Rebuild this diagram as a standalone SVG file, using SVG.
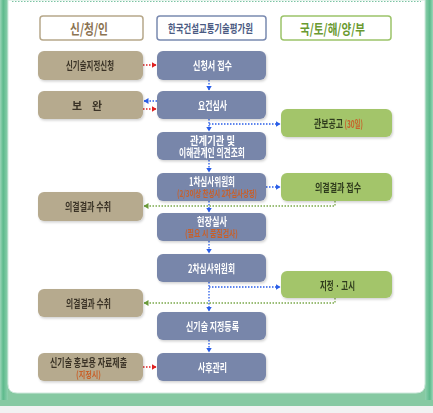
<svg xmlns="http://www.w3.org/2000/svg" width="433" height="413" viewBox="0 0 433 413">
<defs>
<style>
text{font-family:"Noto Sans CJK KR","Noto Sans",sans-serif;text-anchor:middle;dominant-baseline:central;font-weight:bold}
.hd{fill:#fff;stroke-width:1.5}
.tan{fill:#b6aa8e}
.blu{fill:#7886aa}
.grn{fill:#a3c56a}
.tt{fill:#3a3326;font-size:11px}
.wt{fill:#fff;font-size:11px}
.gt{fill:#2e3a1c;font-size:11px}
.or{fill:#c8602a;font-size:9.5px}
.red{stroke:#e02020;stroke-width:1.3;stroke-dasharray:1.5 1.5;fill:none}
.bl{stroke:#2a5ee8;stroke-width:1.3;stroke-dasharray:1.5 1.5;fill:none}
.gr{stroke:#7aa84a;stroke-width:1.3;stroke-dasharray:1.5 1.5;fill:none}
</style>
<marker id="ar" markerWidth="5" markerHeight="6" refX="4.5" refY="3" orient="auto" markerUnits="userSpaceOnUse"><path d="M0,0L5,3L0,6z" fill="#e02020"/></marker>
<marker id="ab" markerWidth="5" markerHeight="6" refX="4.5" refY="3" orient="auto" markerUnits="userSpaceOnUse"><path d="M0,0L5,3L0,6z" fill="#2a5ee8"/></marker>
<marker id="ag" markerWidth="5" markerHeight="6" refX="4.5" refY="3" orient="auto" markerUnits="userSpaceOnUse"><path d="M0,0L5,3L0,6z" fill="#6a9a3a"/></marker>
<linearGradient id="lg" x1="0" x2="1"><stop offset="0" stop-color="#9bd6b8"/><stop offset="0.4" stop-color="#5dba8c"/><stop offset="1" stop-color="#8fd0ae"/></linearGradient>
<linearGradient id="rg" x1="0" x2="1"><stop offset="0" stop-color="#8fd0ae"/><stop offset="0.6" stop-color="#5dba8c"/><stop offset="1" stop-color="#9bd6b8"/></linearGradient>
<filter id="sh" x="-10%" y="-10%" width="130%" height="140%"><feDropShadow dx="1" dy="1.5" stdDeviation="1" flood-color="#000" flood-opacity="0.18"/></filter>
</defs>
<rect width="433" height="413" fill="#ffffff"/>
<g id="frame">
<rect x="0" y="0" width="433" height="406" fill="#86c9a2"/>
<rect x="0" y="0" width="8" height="400" fill="url(#lg)"/>
<rect x="425" y="0" width="8" height="400" fill="url(#rg)"/>
<path d="M8,0H425V384Q425,393 416,393H17Q8,393 8,384Z" fill="#ffffff" stroke="#cfe9dc" stroke-width="1"/>
<line x1="12" y1="1.5" x2="421" y2="1.5" stroke="#7cc4a4" stroke-width="1.2" stroke-dasharray="1.5 1.5"/>
<rect x="0" y="406" width="433" height="7" fill="#f2f2f2"/>
</g>
<g id="hdr-applicant"><rect class="hd" x="40" y="16" width="103" height="24" rx="3" stroke="#b7a88a"/><text x="89" y="28" fill="#8b7352" style="font-size:14px" textLength="38" lengthAdjust="spacingAndGlyphs">신/청/인</text></g>
<g id="hdr-kaia"><rect class="hd" x="157" y="16" width="109" height="24" rx="3" stroke="#7a8ab0"/><text x="210.5" y="28" fill="#4a5a82" style="font-size:11.5px" textLength="85" lengthAdjust="spacingAndGlyphs">한국건설교통기술평가원</text></g>
<g id="hdr-molit"><rect class="hd" x="281" y="16" width="110" height="24" rx="3" stroke="#9cc46a"/><text x="332.5" y="28" fill="#6a9a30" style="font-size:14px" textLength="65" lengthAdjust="spacingAndGlyphs">국/토/해/양/부</text></g>

<g id="connectors">
<line class="red" x1="143" y1="65" x2="156" y2="65" marker-end="url(#ar)"/>
<line class="bl" x1="209" y1="80" x2="209" y2="90" marker-end="url(#ab)"/>
<line class="bl" x1="157" y1="101" x2="144" y2="101" marker-end="url(#ab)"/>
<line class="red" x1="143" y1="109" x2="156" y2="109" marker-end="url(#ar)"/>
<line class="bl" x1="209" y1="119" x2="209" y2="131" marker-end="url(#ab)"/>
<line class="bl" x1="209" y1="124" x2="280" y2="124" marker-end="url(#ab)"/>
<line class="bl" x1="209" y1="160" x2="209" y2="172" marker-end="url(#ab)"/>
<line class="bl" x1="266" y1="187" x2="280" y2="187" marker-end="url(#ab)"/>
<line class="bl" x1="209" y1="201" x2="209" y2="212" marker-end="url(#ab)"/>
<path class="gr" d="M335,201V206H144" marker-end="url(#ag)"/>
<line class="bl" x1="209" y1="241" x2="209" y2="253" marker-end="url(#ab)"/>
<line class="bl" x1="209" y1="282" x2="209" y2="311" marker-end="url(#ab)"/>
<line class="bl" x1="209" y1="287" x2="280" y2="287" marker-end="url(#ab)"/>
<path class="gr" d="M335,298V303H144" marker-end="url(#ag)"/>
<line class="bl" x1="209" y1="340" x2="209" y2="352" marker-end="url(#ab)"/>
<line class="red" x1="143" y1="367" x2="156" y2="367" marker-end="url(#ar)"/>
</g>

<g id="n-apply" filter="url(#sh)"><rect class="tan" x="38" y="51" width="105" height="29" rx="6"/><text class="tt" x="90" y="65" textLength="48" lengthAdjust="spacingAndGlyphs">신기술지정신청</text></g>
<g id="n-supplement" filter="url(#sh)"><rect class="tan" x="38" y="91" width="105" height="28" rx="6"/><text class="tt" x="87" y="105" textLength="30" lengthAdjust="spacingAndGlyphs" xml:space="preserve">보    완</text></g>
<g id="n-receive1" filter="url(#sh)"><rect class="tan" x="38" y="192" width="105" height="29" rx="6"/><text class="tt" x="88" y="206" textLength="46" lengthAdjust="spacingAndGlyphs">의결결과 수취</text></g>
<g id="n-receive2" filter="url(#sh)"><rect class="tan" x="38" y="289" width="105" height="28" rx="6"/><text class="tt" x="88.5" y="303" textLength="45" lengthAdjust="spacingAndGlyphs">의결결과 수취</text></g>
<g id="n-promo" filter="url(#sh)"><rect class="tan" x="38" y="353" width="105" height="28" rx="6"/><text class="tt" x="88.5" y="361.5" textLength="77" lengthAdjust="spacingAndGlyphs">신기술 홍보용 자료제출</text><text class="or" x="88.5" y="373.5" textLength="25" lengthAdjust="spacingAndGlyphs">(지정시)</text></g>

<g id="n-accept" filter="url(#sh)"><rect class="blu" x="157" y="51" width="109" height="29" rx="6"/><text class="wt" x="212.5" y="65" textLength="39" lengthAdjust="spacingAndGlyphs">신청서 접수</text></g>
<g id="n-review" filter="url(#sh)"><rect class="blu" x="157" y="91" width="109" height="28" rx="6"/><text class="wt" x="212.5" y="105" textLength="29" lengthAdjust="spacingAndGlyphs">요건심사</text></g>
<g id="n-inquiry" filter="url(#sh)"><rect class="blu" x="157" y="132" width="109" height="28" rx="6"/><text class="wt" x="212.5" y="139.5" textLength="45" lengthAdjust="spacingAndGlyphs">관계기관 및</text><text class="wt" x="212" y="152" textLength="66" lengthAdjust="spacingAndGlyphs">이해관계인 의견조회</text></g>
<g id="n-first" filter="url(#sh)"><rect class="blu" x="157" y="173" width="109" height="28" rx="6"/><text class="wt" x="212" y="181" textLength="46" lengthAdjust="spacingAndGlyphs">1차심사위원회</text><text class="or" x="217" y="193" textLength="80" lengthAdjust="spacingAndGlyphs">(2/3이상 찬성시 2차심사상정)</text></g>
<g id="n-site" filter="url(#sh)"><rect class="blu" x="157" y="213" width="109" height="28" rx="6"/><text class="wt" x="212" y="220.5" textLength="30" lengthAdjust="spacingAndGlyphs">현장실사</text><text class="or" x="211.5" y="233" textLength="53" lengthAdjust="spacingAndGlyphs">(필요 시 품질검사)</text></g>
<g id="n-second" filter="url(#sh)"><rect class="blu" x="157" y="254" width="109" height="28" rx="6"/><text class="wt" x="211.5" y="268" textLength="47" lengthAdjust="spacingAndGlyphs">2차심사위원회</text></g>
<g id="n-register" filter="url(#sh)"><rect class="blu" x="157" y="312" width="109" height="28" rx="6"/><text class="wt" x="212.5" y="326" textLength="53" lengthAdjust="spacingAndGlyphs">신기술 지정등록</text></g>
<g id="n-after" filter="url(#sh)"><rect class="blu" x="157" y="353" width="109" height="28" rx="6"/><text class="wt" x="212.5" y="367" textLength="29" lengthAdjust="spacingAndGlyphs">사후관리</text></g>

<g id="n-gazette" filter="url(#sh)"><rect class="grn" x="281" y="109" width="111" height="28" rx="6"/><text class="gt" x="314" y="123" style="text-anchor:start" textLength="29" lengthAdjust="spacingAndGlyphs">관보공고</text><text class="or" x="344.5" y="123" style="text-anchor:start;font-size:10.5px" textLength="18.5" lengthAdjust="spacingAndGlyphs">(30일)</text></g>
<g id="n-resultrecv" filter="url(#sh)"><rect class="grn" x="281" y="173" width="111" height="28" rx="6"/><text class="gt" x="338" y="187" textLength="46" lengthAdjust="spacingAndGlyphs">의결결과 접수</text></g>
<g id="n-designate" filter="url(#sh)"><rect class="grn" x="281" y="271" width="111" height="27" rx="6"/><text class="gt" x="337.5" y="284.5" textLength="35" lengthAdjust="spacingAndGlyphs">지정 · 고시</text></g>
</svg>
